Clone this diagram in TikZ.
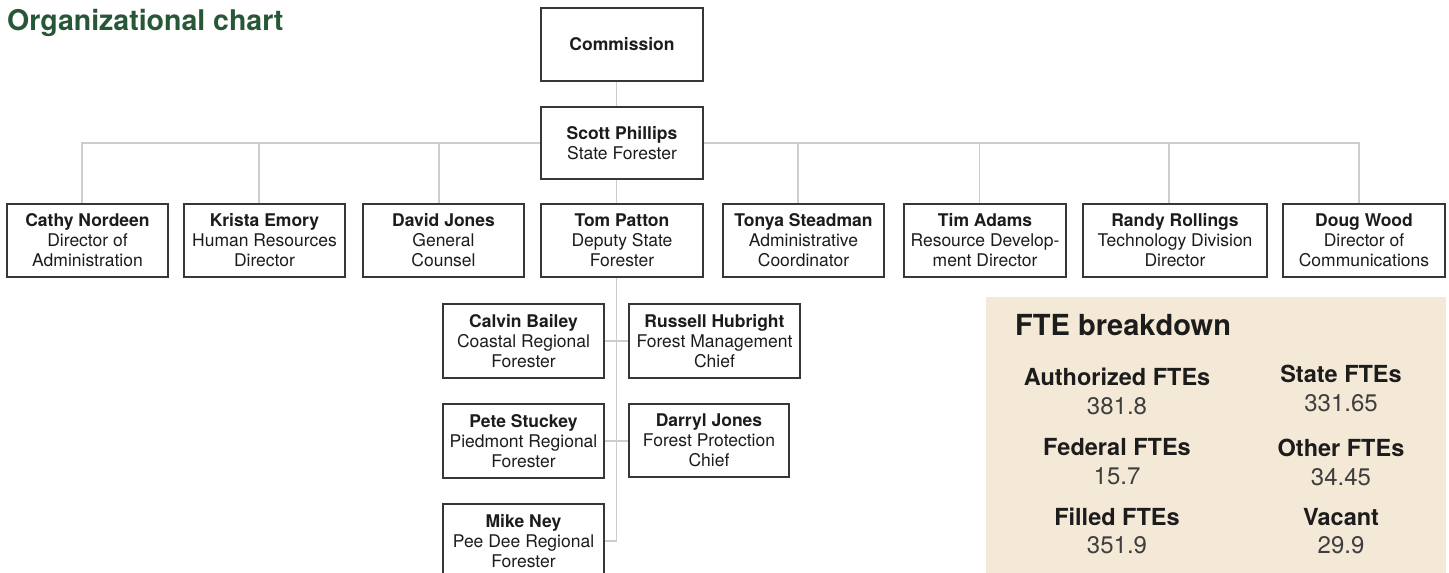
\documentclass[tikz,border=0pt]{standalone}
\usepackage{fontspec}
\setmainfont{TeX Gyre Heros}
\definecolor{titlegreen}{RGB}{40,87,56}
\definecolor{ftebg}{RGB}{244,232,215}
\definecolor{boxline}{RGB}{55,55,55}
\definecolor{connline}{RGB}{205,205,205}
\definecolor{txt}{RGB}{28,28,28}
\begin{document}
\begin{tikzpicture}[x=1pt,y=-1pt,
  pbox/.style={draw=boxline, line width=1.3pt, fill=white, inner sep=0pt, align=center,
    text=txt, font=\fontsize{17.5}{20}\selectfont, minimum height=73pt},
  conn/.style={draw=connline, line width=1.4pt},
  ftelabel/.style={anchor=base, inner sep=0pt, text=txt, font=\fontsize{23.5}{26}\selectfont\bfseries},
  ftenum/.style={anchor=base, inner sep=0pt, text=txt!85, font=\fontsize{24}{26}\selectfont},
]
\useasboundingbox (0,0) rectangle (1449,573);

% title
\node[anchor=base west, inner sep=0pt, text=titlegreen,
  font=\fontsize{28.5}{30}\selectfont\bfseries] (title) at (7,30) {Organizational chart};

% top
\node[pbox, minimum width=162pt] (commission) at (622,44.5) {\textbf{Commission}};
\node[pbox, minimum width=162pt, minimum height=72pt] (scott) at (622,143) {\textbf{Scott Phillips}\\State Forester};

% direct reports
\node[pbox, minimum width=161pt] (cathy)  at (87.5,240.5)  {\textbf{Cathy Nordeen}\\Director of\\Administration};
\node[pbox, minimum width=161pt] (krista) at (264.5,240.5) {\textbf{Krista Emory}\\Human Resources\\Director};
\node[pbox, minimum width=161pt] (david)  at (443.5,240.5) {\textbf{David Jones}\\General\\Counsel};
\node[pbox, minimum width=162pt] (tom)    at (622,240.5)   {\textbf{Tom Patton}\\Deputy State\\Forester};
\node[pbox, minimum width=161pt] (tonya)  at (803.5,240.5) {\textbf{Tonya Steadman}\\Administrative\\Coordinator};
\node[pbox, minimum width=162pt] (tim)    at (985,240.5)   {\textbf{Tim Adams}\\Resource Develop-\\ment Director};
\node[pbox, minimum width=184pt] (randy)  at (1175,240.5)  {\textbf{Randy Rollings}\\Technology Division\\Director};
\node[pbox, minimum width=162pt] (doug)   at (1364,240.5)  {\textbf{Doug Wood}\\Director of\\Communications};

% deputy reports
\node[pbox, minimum width=161pt, minimum height=74pt] (calvin)  at (523.5,341) {\textbf{Calvin Bailey}\\Coastal Regional\\Forester};
\node[pbox, minimum width=171pt, minimum height=74pt] (russell) at (714.5,341) {\textbf{Russell Hubright}\\Forest Management\\Chief};
\node[pbox, minimum width=161pt, minimum height=74pt] (pete)    at (523.5,441) {\textbf{Pete Stuckey}\\Piedmont Regional\\Forester};
\node[pbox, minimum width=160pt, minimum height=73pt] (darryl)  at (709,440.5) {\textbf{Darryl Jones}\\Forest Protection\\Chief};
\node[pbox, minimum width=161pt, minimum height=74pt] (mike)    at (523.5,541) {\textbf{Mike Ney}\\Pee Dee Regional\\Forester};

% connector helper coordinates
\coordinate (cs) at ([xshift=-5.5pt]commission.south);
\coordinate (sn) at ([xshift=-5.5pt]scott.north);
\coordinate (ss) at ([xshift=-5.5pt]scott.south);
\coordinate (tn) at ([xshift=-5.5pt]tom.north);
\coordinate (ts) at ([xshift=-5.5pt]tom.south);
\coordinate (cn) at ([xshift=-5.5pt]cathy.north);
\coordinate (kn) at ([xshift=-5.5pt]krista.north);
\coordinate (dn) at ([xshift=-4.5pt]david.north);
\coordinate (ton) at ([xshift=-5.5pt]tonya.north);
\coordinate (tin) at ([xshift=-5.5pt]tim.north);
\coordinate (rn) at ([xshift=-6pt]randy.north);
\coordinate (dwn) at ([xshift=-5pt]doug.north);

\draw[conn] (cs) -- (sn);
\draw[conn] (cn) |- (scott.west);
\draw[conn] (dwn) |- (scott.east);
\draw[conn] (kn) -- (kn |- scott.west);
\draw[conn] (dn) -- (dn |- scott.west);
\draw[conn] (ton) -- (ton |- scott.east);
\draw[conn] (tin) -- (tin |- scott.east);
\draw[conn] (rn) -- (rn |- scott.east);
\draw[conn] (ss) -- (tn);
\draw[conn] (ts) |- (mike.east);
\draw[conn] (calvin.east) -- (russell.west);
\draw[conn] (pete.east) -- (pete.east -| darryl.west);

% FTE panel
\node[fill=ftebg, inner sep=0pt, minimum width=460pt, minimum height=280pt, anchor=north west] (fte) at (986,297) {};
\node[anchor=base west, inner sep=0pt, text=txt, font=\fontsize{29}{31}\selectfont\bfseries] (ftetitle) at (1015,335) {FTE breakdown};

\node[ftelabel] (l1) at (1117,385) {Authorized FTEs};
\node[ftenum]   (n1) at (1117,414) {381.8};
\node[ftelabel] (l2) at (1117,455) {Federal FTEs};
\node[ftenum]   (n2) at (1117,484) {15.7};
\node[ftelabel] (l3) at (1117,525) {Filled FTEs};
\node[ftenum]   (n3) at (1117,553) {351.9};

\node[ftelabel] (r1) at (1341,382) {State FTEs};
\node[ftenum]   (m1) at (1341,411) {331.65};
\node[ftelabel] (r2) at (1341,456) {Other FTEs};
\node[ftenum]   (m2) at (1341,485) {34.45};
\node[ftelabel] (r3) at (1341,525) {Vacant};
\node[ftenum]   (m3) at (1341,553) {29.9};
\end{tikzpicture}
\end{document}
